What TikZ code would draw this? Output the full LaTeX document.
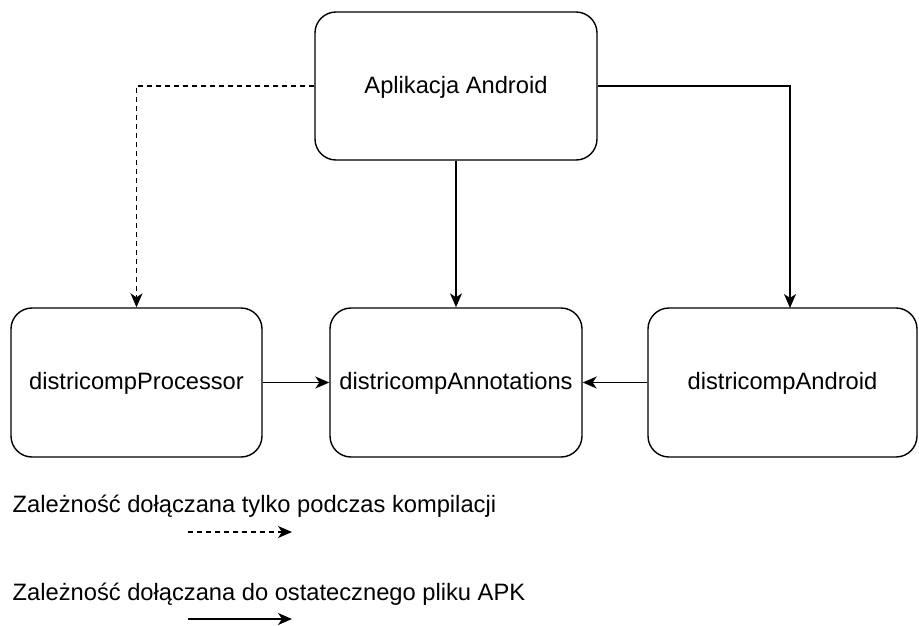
\documentclass[tikz,border=0pt]{standalone}
\usepackage{fontspec}
\setmainfont{Liberation Sans}
\usetikzlibrary{arrows.meta,positioning}
\begin{document}
\begin{tikzpicture}[x=1pt,y=-1pt,
  box/.style={draw=black,line width=1.4pt,rounded corners=21pt,fill=white,inner sep=0pt},
  lbl/.style={font=\fontsize{23.7}{28}\selectfont,text=black,inner sep=0pt},
  conn/.style={line width=1.4pt,-{Stealth[length=14pt,width=12pt,inset=4pt]}},
  dashconn/.style={conn,dash pattern=on 5pt off 4pt}]
\useasboundingbox (0,0) rectangle (919,625);
\node[box,minimum width=282pt,minimum height=148pt] (A) at (456,86) {};
\node[box,minimum width=251pt,minimum height=149pt] (P) at (136.5,382.5) {};
\node[box,minimum width=252pt,minimum height=149pt] (N) at (456,382.5) {};
\node[box,minimum width=269pt,minimum height=149pt] (D) at (782.5,382.5) {};
\node[lbl] (tA) at (456,87) {Aplikacja Android};
\node[lbl] (tP) at (136.5,383) {districompProcessor};
\node[lbl] (tN) at (456,383) {districompAnnotations};
\node[lbl] (tD) at (782.5,383) {districompAndroid};
\coordinate (dr) at (790,308);
\draw[dashconn] (A.west) -| (P.north);
\draw[conn] (A.south) -- (N.north);
\draw[conn] (A.east) -| (dr);
\draw[conn] (P.east) -- (N.west);
\draw[conn] (D.west) -- (N.east);
\node[lbl,anchor=base west] (l1) at (12.5,512) {Zależność dołączana tylko podczas kompilacji};
\node[lbl,anchor=base west] (l2) at (12.5,600) {Zależność dołączana do ostatecznego pliku APK};
\coordinate (d1s) at (188,532);
\coordinate (d1e) at (292,532);
\coordinate (d2s) at (188,619);
\coordinate (d2e) at (292,619);
\draw[dashconn] (d1s) -- (d1e);
\draw[conn] (d2s) -- (d2e);
\end{tikzpicture}
\end{document}
